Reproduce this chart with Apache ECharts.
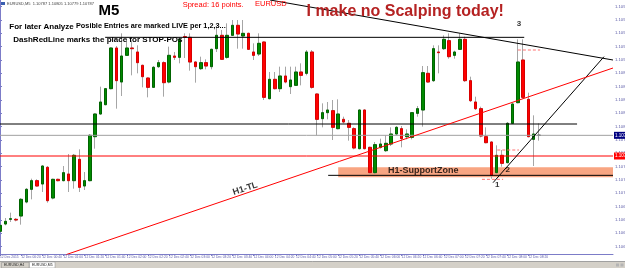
<!DOCTYPE html>
<html><head><meta charset="utf-8">
<script src="https://cdn.jsdelivr.net/npm/echarts@6/dist/echarts.min.js"></script>
<style>html,body{margin:0;padding:0;background:#fff;overflow:hidden}#c{width:625px;height:268px}</style>
</head><body><div id="c"></div>
<script>
// ---- candle values (EURUSD, M5) ----
const opens=[1.10643,1.10654,1.10661,1.10661,1.10666,1.10687,1.10706,1.10719,1.10714,1.10739,
1.10693,1.10721,1.10719,1.10729,1.10719,1.10751,1.10711,1.10719,1.10785,1.10819,
1.10833,1.10857,1.10918,1.10867,1.10907,1.10918,1.10912,1.10892,1.10873,1.10859,
1.10890,1.10896,1.10867,1.10906,1.10904,1.10935,1.10934,1.10897,1.10887,1.10896,
1.10890,1.10917,1.10937,1.10904,1.10937,1.10952,1.10936,1.10940,1.10912,1.10909,
1.10927,1.10842,1.10871,1.10857,1.10876,1.10860,1.10862,1.10882,1.10880,1.10912,
1.10849,1.10812,1.10821,1.10824,1.10797,1.10811,1.10805,1.10797,1.10767,1.10825,
1.10769,1.10731,1.10769,1.10764,1.10774,1.10789,1.10797,1.10785,1.10784,1.10820,
1.10825,1.10880,1.10869,1.10912,1.10917,1.10929,1.10907,1.10916,1.10931,1.10869,
1.10837,1.10827,1.10785,1.10777,1.10731,1.10757,1.10746,1.10805,1.10836,1.10900,
1.10841,1.10781,1.10787];
const closes=[1.10652,1.10658,1.10662,1.10660,1.10691,1.10706,1.10719,1.10711,1.10741,1.10689,
1.10721,1.10719,1.10731,1.10719,1.10757,1.10709,1.10719,1.10787,1.10819,1.10837,
1.10857,1.10918,1.10869,1.10906,1.10918,1.10917,1.10896,1.10875,1.10859,1.10889,
1.10896,1.10866,1.10907,1.10904,1.10931,1.10934,1.10897,1.10890,1.10896,1.10891,
1.10916,1.10937,1.10901,1.10937,1.10952,1.10939,1.10940,1.10916,1.10907,1.10925,
1.10844,1.10871,1.10857,1.10876,1.10867,1.10870,1.10882,1.10877,1.10912,1.10859,
1.10811,1.10821,1.10825,1.10799,1.10819,1.10807,1.10799,1.10768,1.10825,1.10767,
1.10731,1.10773,1.10774,1.10775,1.10789,1.10799,1.10782,1.10789,1.10821,1.10827,
1.10881,1.10867,1.10917,1.10911,1.10931,1.10905,1.10912,1.10931,1.10869,1.10839,
1.10827,1.10786,1.10776,1.10727,1.10757,1.10745,1.10805,1.10834,1.10897,1.10844,
1.10785,1.10789,1.10787];
const lows=[1.10640,1.10652,1.10657,1.10658,1.10653,1.10685,1.10691,1.10710,1.10702,1.10686,
1.10691,1.10718,1.10718,1.10702,1.10707,1.10702,1.10705,1.10718,1.10767,1.10818,
1.10832,1.10856,1.10827,1.10846,1.10906,1.10877,1.10880,1.10859,1.10844,1.10858,
1.10888,1.10845,1.10865,1.10900,1.10895,1.10903,1.10884,1.10866,1.10885,1.10886,
1.10886,1.10912,1.10900,1.10902,1.10936,1.10917,1.10917,1.10915,1.10900,1.10906,
1.10840,1.10841,1.10856,1.10852,1.10865,1.10849,1.10861,1.10862,1.10877,1.10857,
1.10787,1.10799,1.10811,1.10780,1.10796,1.10805,1.10779,1.10766,1.10766,1.10766,
1.10730,1.10729,1.10767,1.10762,1.10771,1.10787,1.10769,1.10781,1.10781,1.10815,
1.10800,1.10866,1.10867,1.10880,1.10915,1.10902,1.10902,1.10915,1.10867,1.10837,
1.10825,1.10784,1.10775,1.10722,1.10730,1.10740,1.10745,1.10804,1.10835,1.10842,
1.10784,1.10741,1.10779];
const highs=[1.10655,1.10663,1.10671,1.10663,1.10693,1.10708,1.10722,1.10721,1.10742,1.10741,
1.10722,1.10722,1.10741,1.10759,1.10759,1.10766,1.10732,1.10789,1.10820,1.10860,
1.10858,1.10919,1.10921,1.10940,1.10932,1.10929,1.10922,1.10893,1.10874,1.10891,
1.10900,1.10898,1.10920,1.10912,1.10934,1.10940,1.10940,1.10898,1.10905,1.10901,
1.10917,1.10950,1.10945,1.10955,1.10960,1.10960,1.10960,1.10941,1.10925,1.10940,
1.10928,1.10882,1.10882,1.10890,1.10890,1.10890,1.10890,1.10895,1.10915,1.10915,
1.10850,1.10835,1.10837,1.10840,1.10841,1.10815,1.10810,1.10799,1.10826,1.10826,
1.10770,1.10777,1.10782,1.10787,1.10799,1.10801,1.10801,1.10796,1.10822,1.10831,
1.10891,1.10891,1.10922,1.10922,1.10937,1.10940,1.10914,1.10940,1.10935,1.10875,
1.10845,1.10830,1.10799,1.10778,1.10772,1.10765,1.10807,1.10835,1.10931,1.10931,
1.10851,1.10817,1.10805];

// ---- axes ----
const timeLabels=["12 Dec 2015","12 Dec 00:20","12 Dec 00:40","12 Dec 01:00","12 Dec 01:20","12 Dec 01:40",
"12 Dec 02:00","12 Dec 02:20","12 Dec 02:40","12 Dec 03:00","12 Dec 03:20","12 Dec 03:40","12 Dec 04:00",
"12 Dec 04:20","12 Dec 04:40","12 Dec 05:00","12 Dec 05:20","12 Dec 05:40","12 Dec 06:00","12 Dec 06:20",
"12 Dec 06:40","12 Dec 07:00","12 Dec 07:20","12 Dec 07:40","12 Dec 08:00","12 Dec 08:20"];
const priceTicks=[1.1098,1.1096,1.1094,1.1092,1.1090,1.1088,1.1086,1.1084,1.1082,1.1080,1.1078,1.1076,1.1074,1.1072,1.1070,1.1068,1.1066,1.1064,1.1062];
const priceMax=1.10990, priceMin=1.10609;
const slotCount=117; // candles + empty right shift

// ---- drawn objects (bar index, price) ----
const trendDown=[[51.1,1.10990],[116,1.10900]];
const trendUp=[[93.3,1.10716],[114.3,1.10905]];
const trendH1=[[12.5,1.10608],[116,1.10888]];
const levelTop=[[19.9,1.10934],[99.2,1.10934]];
const levelMid=[[0,1.10804],[109.2,1.10804]];
const bidLevel=[[0,1.10787],[116,1.10787]];
const redLevel=[[0,1.10756],[116,1.10756]];
const zoneBase=[[62.1,1.10727],[116,1.10727]];
const zoneTop=[[64.0,1.10739],[116,1.10739]];
const zoneBottom=1.10724;
const stop1=[[91.2,1.10721],[95.2,1.10721]];
const stop2=[[94.1,1.10765],[98.2,1.10765]];
const stop3=[[98.0,1.10915],[102.2,1.10915]];
const noteTexts=['1','2','3','H1-SupportZone','H1-TL'];
const notePoints=[[94.1,1.10713],[96.1,1.10736],[98.2,1.10954],[80.1,1.10734],[46.4,1.10707]];

// ---- build ----
const n=opens.length;
const categories=[];
for(let i=0;i<slotCount;i++){categories.push(i%4===0&&i/4<timeLabels.length?timeLabels[i/4]:'s'+i);}
const showTick=(idx)=>idx%4===0&&idx/4<timeLabels.length;
const wickData=opens.map((o,i)=>[o,closes[i],lows[i],highs[i]]);
const bodyData=opens.map((o,i)=>[o,closes[i],Math.min(o,closes[i]),Math.max(o,closes[i])]);
const FONT='"Liberation Sans", Arial, sans-serif';
function lineSeries(data,color,opt){
  return Object.assign({type:'line',xAxisIndex:1,yAxisIndex:0,data:data,symbol:'none',showSymbol:false,silent:true,
    lineStyle:{color:color,width:1,type:(opt&&opt.dash)||'solid'},z:(opt&&opt.z)||6,animation:false},opt&&opt.extra||{});
}
const boxLabel=(bg)=>({show:true,formatter:(p)=>p.value[1].toFixed(5),backgroundColor:bg,color:'#fff',fontSize:4.5,
  fontFamily:FONT,padding:[1,1,1,1],distance:1,align:'left'});
const last=n-1;
const headerText='EURUSD,M5  '+[opens[last],highs[last],lows[last],closes[last]].map(v=>v.toFixed(5)).join(' ');

const chart=echarts.init(document.getElementById('c'),null,{renderer:'canvas'});
chart.setOption({
  animation:false,
  backgroundColor:'#ffffff',
  grid:{left:0,right:12,top:0,bottom:14,containLabel:false,outerBoundsMode:'none'},
  xAxis:[
    {type:'category',data:categories,boundaryGap:false,
     axisLine:{show:true,lineStyle:{color:'#7c7cc8',width:1}},
     axisTick:{show:true,interval:(i)=>showTick(i),length:2,lineStyle:{color:'#7c7cc8'}},
     axisLabel:{show:true,interval:(i)=>showTick(i),align:'left',fontSize:3.3,margin:2,color:'#5b5ba8',fontFamily:FONT},
     splitLine:{show:false}},
    {type:'value',min:0,max:slotCount-1,show:false,gridIndex:0}
  ],
  yAxis:[{type:'value',position:'right',min:priceMin,max:priceMax,
     axisLine:{show:true,lineStyle:{color:'#7c7cc8',width:1}},
     axisTick:{show:true,customValues:priceTicks,length:2,lineStyle:{color:'#7c7cc8'}},
     axisLabel:{show:true,customValues:priceTicks,fontSize:4.2,margin:2,color:'#5b5ba8',fontFamily:FONT,formatter:(v)=>v.toFixed(5)},
     splitLine:{show:false}}],
  series:[
    // support zone fill
    lineSeries(zoneTop,'#f8a582',{z:1,extra:{lineStyle:{width:0,color:'#f8a582'},areaStyle:{color:'#f8a582',opacity:1,origin:zoneBottom}}}),
    {type:'candlestick',xAxisIndex:0,yAxisIndex:0,data:wickData,barWidth:3,silent:true,z:3,
     itemStyle:{color:'rgba(0,0,0,0)',color0:'rgba(0,0,0,0)',borderColor:'#a6a6a6',borderColor0:'#a6a6a6',borderColorDoji:'#a6a6a6',borderWidth:1}},
    {type:'candlestick',xAxisIndex:0,yAxisIndex:0,data:bodyData,barWidth:3,silent:true,z:4,
     itemStyle:{color:'#008a00',color0:'#ff0000',borderColor:'#006400',borderColor0:'#d80000',borderColorDoji:'#303030',borderWidth:1}},
    lineSeries(levelTop,'#000000'),
    lineSeries(levelMid,'#000000'),
    lineSeries(bidLevel,'#a0a0a0',{extra:{endLabel:boxLabel('#000080')}}),
    lineSeries(redLevel,'#ff0000',{extra:{endLabel:boxLabel('#ff0000')}}),
    lineSeries(zoneBase,'#000000'),
    lineSeries(trendDown,'#000000'),
    lineSeries(trendUp,'#000000'),
    lineSeries(trendH1,'#ff0000'),
    lineSeries(stop1,'#ff7070',{dash:[3,2]}),
    lineSeries(stop2,'#ff7070',{dash:[3,2]}),
    lineSeries(stop3,'#ff7070',{dash:[3,2]}),
    {type:'scatter',xAxisIndex:1,yAxisIndex:0,symbolSize:0,silent:true,z:8,
     data:notePoints.map((p,i)=>({value:p,label:{formatter:noteTexts[i],rotate:noteTexts[i]==='H1-TL'?18:0,
        fontSize:noteTexts[i].length===1?8:9}})),
     label:{show:true,position:'inside',color:'#000',fontWeight:'bold',fontFamily:FONT}}
  ],
  graphic:[
    {type:'rect',z:100,shape:{x:1,y:2,width:4,height:3},style:{fill:'#3a5fb0'}},
    {type:'text',z:100,style:{text:headerText,x:7,y:4,font:'4px '+FONT,fill:'#404040',textVerticalAlign:'middle'}},
    {type:'text',z:100,style:{text:'M5',x:109,y:10.5,font:'bold 15px '+FONT,fill:'#000',textAlign:'center',textVerticalAlign:'middle'}},
    {type:'text',z:100,style:{text:'For later Analyze',x:9.3,y:26.3,font:'bold 8px '+FONT,fill:'#000',textVerticalAlign:'middle'}},
    {type:'text',z:100,style:{text:'Posible Entries are marked LIVE per 1,2,3...',x:76,y:26.3,font:'bold 7.3px '+FONT,fill:'#000',textVerticalAlign:'middle'}},
    {type:'text',z:100,style:{text:'DashRedLine marks the place for STOP-POs',x:13.3,y:40,font:'bold 8px '+FONT,fill:'#000',textVerticalAlign:'middle'}},
    {type:'text',z:100,style:{text:'Spread: 16 points.',x:182.7,y:5,font:'7.5px '+FONT,fill:'#ff0000',textVerticalAlign:'middle'}},
    {type:'text',z:100,style:{text:'EURUSD',x:255,y:4.3,font:'7.5px '+FONT,fill:'#ff0000',textVerticalAlign:'middle'}},
    {type:'text',z:100,style:{text:'I make no Scalping today!',x:306.5,y:12,font:'bold 16px '+FONT,fill:'#b52222',textVerticalAlign:'middle'}},
    // bottom tab bar
    {type:'rect',z:100,shape:{x:0,y:261,width:625,height:7},style:{fill:'#d4d0c8'}},
    {type:'line',z:100,shape:{x1:0,y1:261.5,x2:625,y2:261.5},style:{stroke:'#a0a0a0',lineWidth:1}},
    {type:'rect',z:101,shape:{x:1.5,y:262.5,width:27.5,height:5.5},style:{fill:'#d4d0c8',stroke:'#8c8c8c',lineWidth:0.5}},
    {type:'text',z:102,style:{text:'EURUSD,H4',x:4,y:265.3,font:'3.5px '+FONT,fill:'#202020',textVerticalAlign:'middle'}},
    {type:'rect',z:101,shape:{x:29.5,y:262,width:25.5,height:6},style:{fill:'#ffffff',stroke:'#8c8c8c',lineWidth:0.5}},
    {type:'text',z:102,style:{text:'EURUSD,M5',x:32,y:265.3,font:'3.5px '+FONT,fill:'#202020',textVerticalAlign:'middle'}},
    {type:'rect',z:101,shape:{x:616,y:263.5,width:3,height:3},style:{fill:'#b4b4b4'}},
    {type:'rect',z:101,shape:{x:620.5,y:263.5,width:3,height:3},style:{fill:'#b4b4b4'}}
  ]
});
</script></body></html>
